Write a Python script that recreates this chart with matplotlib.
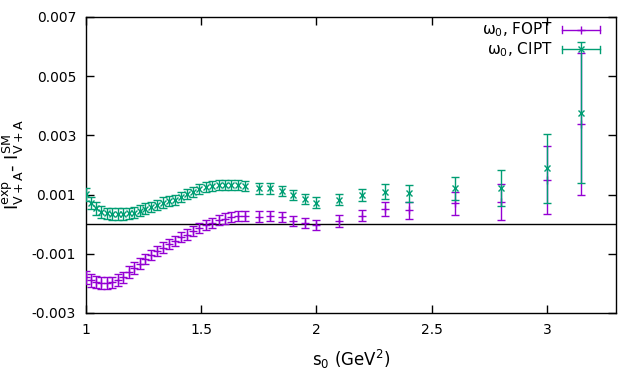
import matplotlib
matplotlib.use("Agg")
import matplotlib.pyplot as plt
import numpy as np

plt.rcParams['font.family'] = ['DejaVu Sans']
plt.rcParams['mathtext.fontset'] = 'dejavusans'
plt.rcParams['axes.unicode_minus'] = False

# ---- data (values in units of 1e-3) ----
s0 = [1.000, 1.022, 1.045, 1.068, 1.091, 1.114, 1.138, 1.161, 1.186, 1.210,
      1.234, 1.259, 1.284, 1.309, 1.335, 1.361, 1.387, 1.413, 1.440, 1.466,
      1.493, 1.521, 1.548, 1.576, 1.604, 1.632, 1.661, 1.689,
      1.75, 1.80, 1.85, 1.90, 1.95, 2.00, 2.10, 2.20, 2.30, 2.40, 2.60, 2.80, 3.00, 3.15]

fopt_e3 = [-1.80, -1.90, -1.96, -1.99, -2.00, -1.97, -1.90, -1.80, -1.62, -1.48,
           -1.33, -1.18, -1.04, -0.91, -0.79, -0.67, -0.56, -0.45, -0.35, -0.24,
           -0.13, -0.04, 0.05, 0.13, 0.19, 0.24, 0.26, 0.26,
           0.25, 0.28, 0.23, 0.11, 0.04, -0.04, 0.11, 0.29, 0.50, 0.47, 0.70, 0.74, 1.49, 3.39]

cipt_e3 = [1.01, 0.72, 0.53, 0.42, 0.36, 0.34, 0.34, 0.34, 0.36, 0.39,
           0.45, 0.52, 0.58, 0.65, 0.72, 0.78, 0.83, 0.92, 1.01, 1.10,
           1.18, 1.24, 1.29, 1.32, 1.32, 1.33, 1.32, 1.29,
           1.21, 1.21, 1.11, 1.00, 0.86, 0.73, 0.82, 0.98, 1.10, 1.04, 1.21, 1.22, 1.88, 3.77]

fopt_err_e3 = [0.22, 0.21, 0.21, 0.20, 0.20, 0.20, 0.20, 0.19, 0.19, 0.19,
               0.19, 0.18, 0.18, 0.18, 0.18, 0.18, 0.17, 0.17, 0.17, 0.17,
               0.17, 0.17, 0.17, 0.17, 0.17, 0.17, 0.17, 0.17,
               0.18, 0.18, 0.17, 0.17, 0.17, 0.17, 0.19, 0.20, 0.24, 0.28, 0.38, 0.61, 1.15, 2.39]
cipt_err_e3 = list(fopt_err_e3)

yticks = [-0.003, -0.001, 0.001, 0.003, 0.005, 0.007]
ytick_labels = ['-0.003', '-0.001', '0.001', '0.003', '0.005', '0.007']
xticks = [1, 1.5, 2, 2.5, 3]
xtick_labels = ['1', '1.5', '2', '2.5', '3']
legend_labels = ['ω$_0$, FOPT', 'ω$_0$, CIPT']

PURPLE = '#9400D3'
GREEN = '#009E73'

fig = plt.figure(figsize=(6.4, 3.84), dpi=100)
ax = fig.add_axes([0.134, 0.185, 0.8285, 0.771])

x = np.array(s0)
ax.axhline(0, color='black', lw=1.0, zorder=1)
ax.errorbar(x, np.array(fopt_e3) * 1e-3, yerr=np.array(fopt_err_e3) * 1e-3,
            fmt='+', color=PURPLE, ms=6, mew=1.0, elinewidth=1.0,
            capsize=3.2, capthick=1.0, zorder=3)
ax.errorbar(x, np.array(cipt_e3) * 1e-3, yerr=np.array(cipt_err_e3) * 1e-3,
            fmt='x', color=GREEN, ms=5, mew=1.0, elinewidth=1.0,
            capsize=3.2, capthick=1.0, zorder=4)

ax.set_xlim(1, 3.3)
ax.set_ylim(-0.003, 0.007)
ax.set_xticks(xticks)
ax.set_xticklabels(xtick_labels)
ax.set_yticks(yticks)
ax.set_yticklabels(ytick_labels)
ax.tick_params(direction='in', length=6, width=1.0, top=True, right=True,
               labelsize=10, pad=7, colors='black')
for sp in ax.spines.values():
    sp.set_linewidth(1.0)

ax.set_xlabel(r's$_0$ (GeV$^2$)', fontsize=12, labelpad=8)
ax.set_ylabel(r'$\mathrm{I}^{\mathrm{exp}}_{\mathrm{V+A}}$- $\mathrm{I}^{\mathrm{SM}}_{\mathrm{V+A}}$',
              fontsize=13, labelpad=4)

# gnuplot-style legend (horizontal errorbar sample)
for i, (lab, col, mk, ms) in enumerate([(legend_labels[0], PURPLE, '+', 6),
                                         (legend_labels[1], GREEN, 'x', 5)]):
    yy = 0.957 - i * 0.066
    x0, x1 = 0.8975, 0.9698
    ax.plot([x0, x1], [yy, yy], color=col, lw=1.0, transform=ax.transAxes, clip_on=False)
    for xe in (x0, x1):
        ax.plot([xe, xe], [yy - 0.012, yy + 0.012], color=col, lw=1.0,
                transform=ax.transAxes, clip_on=False)
    ax.plot([(x0 + x1) / 2], [yy], marker=mk, ms=ms, mew=1.0, color=col,
            transform=ax.transAxes, clip_on=False)
    ax.text(0.881, yy, lab, ha='right', va='center', fontsize=11,
            transform=ax.transAxes)

fig.savefig('out.png', dpi=100)
